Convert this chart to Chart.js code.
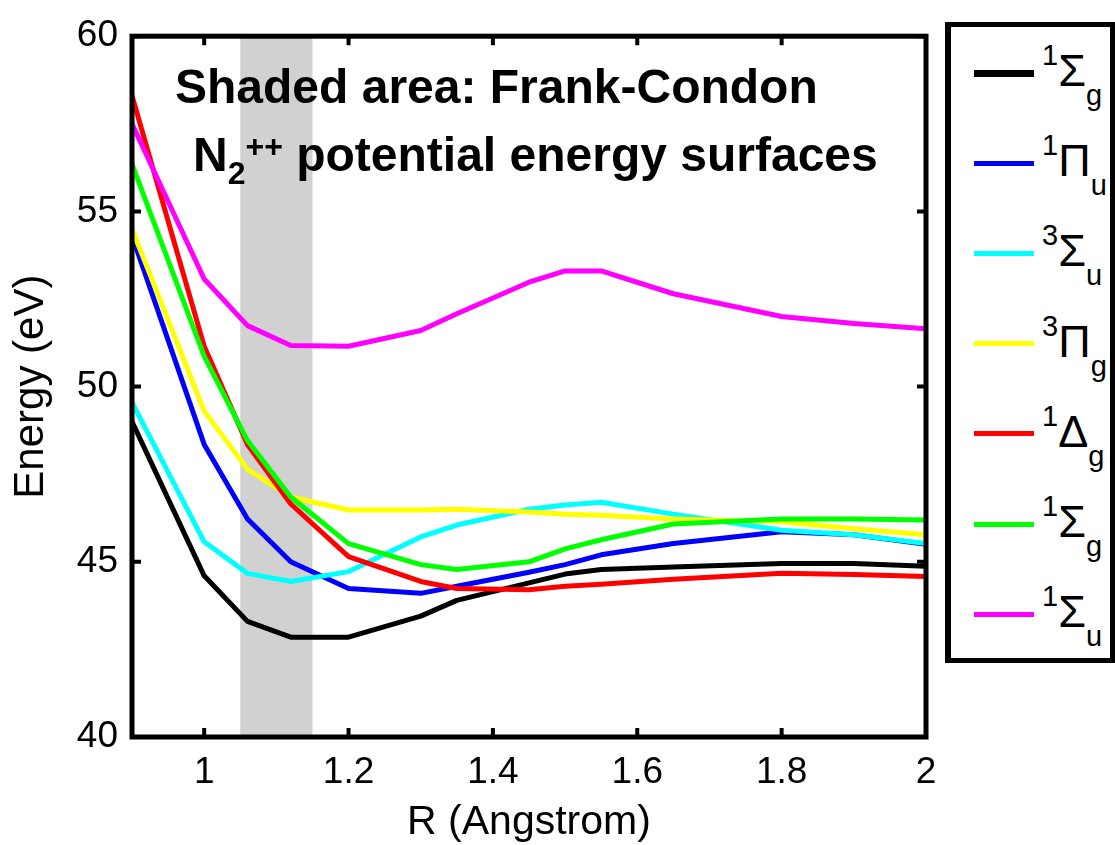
<!DOCTYPE html>
<html>
<head>
<meta charset="utf-8">
<script src="https://cdn.jsdelivr.net/npm/chart.js@4.4.1/dist/chart.umd.min.js"></script>
<style>
    body { margin: 0; background: #fff; }
    #wrap { position: relative; width: 1115px; height: 845px; overflow: hidden; font-family: "Liberation Sans", Arial, sans-serif; }
    #chart { position: absolute; left: 0; top: 0; }
    .note { position: absolute; white-space: nowrap; font-weight: bold; font-size: 48px; line-height: 48px; color: #000; }
    .note .small { font-size: 32px; position: relative; }
    #legend { position: absolute; left: 945px; top: 22px; width: 170px; height: 641px; box-sizing: border-box; border: 5px solid #000; border-left-width: 6px; background: #fff; }
    .lg-line { position: absolute; left: 23px; width: 60px; }
    .lg-text { position: absolute; left: 91px; font-size: 45px; line-height: 45px; white-space: nowrap; color: #000; }
    .lg-text span { position: relative; font-size: 29px; }
</style>
</head>
<body>
<div id="wrap">
    <canvas id="chart" width="1115" height="845"></canvas>
    <div class="note" style="left:175px; top:63px;">Shaded area: Frank-Condon</div>
    <div class="note" style="left:193px; top:131px;">N<span class="small" style="top:13px;">2</span><span class="small" style="top:-14px;">++</span> potential energy surfaces</div>
    <div id="legend"></div>
</div>
<script>
// Internuclear distance (Angstrom)
const rValues = [0.9, 1.0, 1.06, 1.12, 1.2, 1.3, 1.35, 1.45, 1.5, 1.55, 1.65, 1.8, 1.9, 2.0];

// Potential energy curves (eV)
const sigmaG1 = [49.0, 44.6, 43.3, 42.85, 42.85, 43.45, 43.9, 44.4, 44.65, 44.78, 44.85, 44.95, 44.95, 44.87];
const piU1 = [54.3, 48.35, 46.22, 45.0, 44.24, 44.1, 44.3, 44.7, 44.92, 45.2, 45.52, 45.86, 45.77, 45.5];
const sigmaU3 = [49.55, 45.57, 44.67, 44.44, 44.72, 45.71, 46.05, 46.5, 46.62, 46.7, 46.36, 45.9, 45.77, 45.52];
const piG3 = [54.5, 49.3, 47.64, 46.85, 46.48, 46.48, 46.5, 46.42, 46.36, 46.33, 46.22, 46.14, 45.94, 45.77];
const deltaG1 = [58.3, 51.15, 48.35, 46.65, 45.15, 44.44, 44.24, 44.2, 44.3, 44.36, 44.5, 44.67, 44.64, 44.58];
const sigmaG1b = [56.35, 50.86, 48.46, 46.85, 45.52, 44.92, 44.78, 45.0, 45.37, 45.63, 46.08, 46.22, 46.22, 46.19];
const sigmaU1 = [57.5, 53.07, 51.74, 51.17, 51.15, 51.6, 52.08, 52.98, 53.3, 53.3, 52.65, 52.0, 51.8, 51.65];

// Franck-Condon region
const shadeRange = [1.05, 1.15];

// Axis ticks
const xTicks = [1, 1.2, 1.4, 1.6, 1.8, 2];
const yTicks = [40, 45, 50, 55, 60];

// Legend labels: [multiplicity, symbol, parity]
const seriesLabels = [['1', 'Σ', 'g'], ['1', 'Π', 'u'], ['3', 'Σ', 'u'], ['3', 'Π', 'g'], ['1', 'Δ', 'g'], ['1', 'Σ', 'g'], ['1', 'Σ', 'u']];
const seriesValues = [sigmaG1, piU1, sigmaU3, piG3, deltaG1, sigmaG1b, sigmaU1];
const seriesColors = ['#000000', '#0000ff', '#00ffff', '#ffff00', '#ff0000', '#00ff00', '#ff00ff'];

const FONT = '"Liberation Sans", Arial, sans-serif';

// Grey band behind the curves
const shadePlugin = {
    id: 'shade',
    beforeDatasetsDraw(chart) {
        const { ctx, chartArea: a, scales: { x } } = chart;
        const x0 = x.getPixelForValue(shadeRange[0]);
        const x1 = x.getPixelForValue(shadeRange[1]);
        ctx.save();
        ctx.fillStyle = '#d1d1d1';
        ctx.fillRect(x0, a.top, x1 - x0, a.height);
        ctx.restore();
    }
};

// Box frame with inward ticks on all sides
const framePlugin = {
    id: 'frame',
    afterDatasetsDraw(chart) {
        const { ctx, chartArea: a, scales: { x, y } } = chart;
        const len = 9;
        ctx.save();
        ctx.strokeStyle = '#000';
        ctx.lineWidth = 4;
        ctx.beginPath();
        x.ticks.forEach(t => {
            const px = x.getPixelForValue(t.value);
            ctx.moveTo(px, a.bottom); ctx.lineTo(px, a.bottom - len);
            ctx.moveTo(px, a.top); ctx.lineTo(px, a.top + len);
        });
        y.ticks.forEach(t => {
            const py = y.getPixelForValue(t.value);
            ctx.moveTo(a.left, py); ctx.lineTo(a.left + len, py);
            ctx.moveTo(a.right, py); ctx.lineTo(a.right - len, py);
        });
        ctx.stroke();
        ctx.lineWidth = 5;
        ctx.strokeRect(a.left, a.top, a.right - a.left, a.bottom - a.top);
        ctx.restore();
    }
};

const datasets = seriesValues.map((vals, i) => ({
    label: seriesLabels[i].join(''),
    data: vals.map((v, j) => ({ x: rValues[j], y: v })),
    borderColor: seriesColors[i],
    borderWidth: 5,
    pointRadius: 0,
    tension: 0,
    borderJoinStyle: 'round',
    order: seriesValues.length - i
}));

new Chart(document.getElementById('chart'), {
    type: 'line',
    data: { datasets },
    options: {
        responsive: false,
        animation: false,
        devicePixelRatio: 1,
        layout: { padding: { left: 0, top: 30, right: 189, bottom: 0 } },
        plugins: { legend: { display: false }, tooltip: { enabled: false } },
        scales: {
            x: {
                type: 'linear',
                min: 0.9,
                max: 2,
                afterBuildTicks: s => { s.ticks = xTicks.map(v => ({ value: v })); },
                afterFit: s => { s.height = 108; },
                grid: { display: false, drawTicks: false },
                border: { display: false },
                ticks: { color: '#000', padding: 14, font: { family: FONT, size: 37 }, callback: v => String(v) },
                title: { display: true, text: 'R (Angstrom)', color: '#000', font: { family: FONT, size: 41, lineHeight: 1.1 }, padding: 0 }
            },
            y: {
                min: 40,
                max: 60,
                afterBuildTicks: s => { s.ticks = yTicks.map(v => ({ value: v })); },
                afterFit: s => { s.width = 132; },
                grid: { display: false, drawTicks: false },
                border: { display: false },
                ticks: { color: '#000', padding: 14, font: { family: FONT, size: 37 }, callback: v => String(v) },
                title: { display: true, text: 'Energy (eV)', color: '#000', font: { family: FONT, size: 42, lineHeight: 1 }, padding: { top: 10, bottom: 0 } }
            }
        }
    },
    plugins: [shadePlugin, framePlugin]
});

// Legend box
const legend = document.getElementById('legend');
seriesLabels.forEach((lab, i) => {
    const rowY = 46 + i * 90.2;
    const thick = i === 0 ? 7 : 5;
    const line = document.createElement('div');
    line.className = 'lg-line';
    line.style.top = (rowY - thick / 2) + 'px';
    line.style.height = thick + 'px';
    line.style.background = seriesColors[i];
    legend.appendChild(line);
    const txt = document.createElement('div');
    txt.className = 'lg-text';
    txt.style.top = (rowY - 25) + 'px';
    txt.innerHTML = `<span style="top:-21px;">${lab[0]}</span>${lab[1]}<span style="top:19px;">${lab[2]}</span>`;
    legend.appendChild(txt);
});
</script>
</body>
</html>
